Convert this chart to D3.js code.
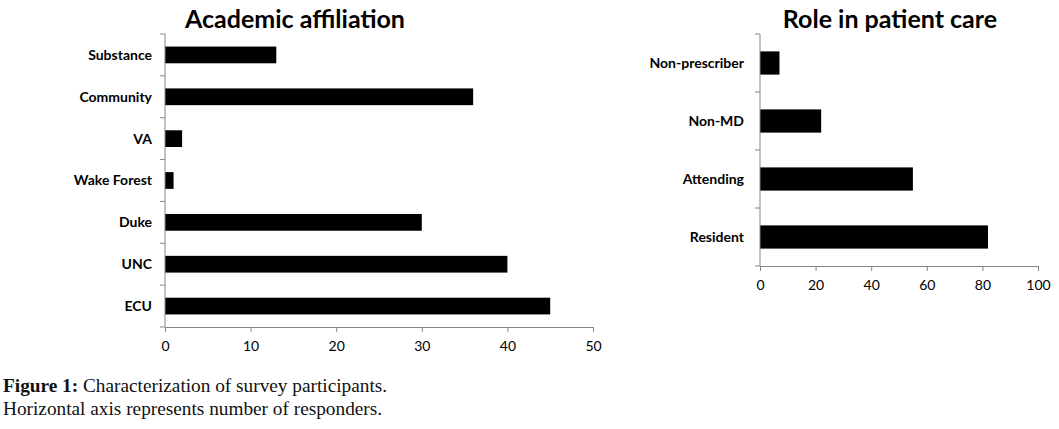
<!DOCTYPE html>
<html><head><meta charset="utf-8">
<script src="https://cdn.jsdelivr.net/npm/d3@7"></script>
<style>
body{margin:0;background:#fff;}
svg{display:block;}
</style></head>
<body>
<svg id="chart" width="1059" height="429"></svg>
<script>
const affilCategories = ["Substance","Community","VA","Wake Forest","Duke","UNC","ECU"];
const affilValues = [13,36,2,1,30,40,45];
const affilTicks = [0,10,20,30,40,50];
const roleCategories = ["Non-prescriber","Non-MD","Attending","Resident"];
const roleValues = [7,22,55,82];
const roleTicks = [0,20,40,60,80,100];

const svg = d3.select("#chart");
const labelFont = "Lato, 'Open Sans', sans-serif";

function drawChart(cfg){
  const g = svg.append("g");
  const x = d3.scaleLinear().domain(cfg.domain).range([cfg.x0, cfg.x1]);
  const y = d3.scaleBand().domain(cfg.cats).range([cfg.y0, cfg.y1]).paddingInner(cfg.pad).paddingOuter(cfg.pad/2);
  const yb = d3.scaleBand().domain(cfg.cats).range([cfg.y0, cfg.y1]);
  // bars
  g.selectAll("rect.bar").data(cfg.cats).join("rect")
    .attr("x", x(0)).attr("y", d=>y(d))
    .attr("width", (d,i)=>x(cfg.vals[i])-x(0))
    .attr("height", y.bandwidth()).attr("fill","#000");
  // y axis line and ticks at band boundaries
  const axisColor = "#868686";
  g.append("line").attr("x1",x(0)).attr("x2",x(0)).attr("y1",cfg.y0).attr("y2",cfg.y1)
    .attr("stroke",axisColor).attr("stroke-width",1);
  const bounds = cfg.cats.map(c=>yb(c)).concat([cfg.y1]);
  g.selectAll("line.yt").data(bounds).join("line")
    .attr("x1",x(0)-5).attr("x2",x(0)).attr("y1",d=>d).attr("y2",d=>d)
    .attr("stroke",axisColor);
  // x axis
  const xa = d3.axisBottom(x).tickValues(cfg.ticks).tickSize(5).tickSizeOuter(0).tickPadding(9);
  const ax = g.append("g").attr("transform",`translate(0,${cfg.y1})`).call(xa);
  ax.select(".domain").attr("stroke",axisColor);
  ax.selectAll(".tick line").attr("stroke",axisColor);
  ax.selectAll(".tick text").attr("font-family",labelFont).attr("font-size",14).attr("fill","#000");
  // category labels
  g.selectAll("text.cat").data(cfg.cats).join("text")
    .attr("x", x(0)-cfg.labelGap).attr("y", d=>y(d)+y.bandwidth()/2)
    .attr("dy","0.35em").attr("text-anchor","end")
    .attr("font-family",labelFont).attr("font-weight","bold").attr("font-size",14)
    .text(d=>d);
  // title
  g.append("text").attr("x",cfg.titleX).attr("y",28).attr("text-anchor","middle")
    .attr("font-family",labelFont).attr("font-weight","bold").attr("font-size",25)
    .text(cfg.title);
}

drawChart({cats:affilCategories, vals:affilValues, ticks:affilTicks, domain:[0,50],
  x0:165, x1:593, y0:34, y1:327, pad:0.6, labelGap:13, title:"Academic affiliation", titleX:295});
drawChart({cats:roleCategories, vals:roleValues, ticks:roleTicks, domain:[0,100],
  x0:760, x1:1038, y0:34, y1:266, pad:0.6, labelGap:16, title:"Role in patient care", titleX:890});

// caption
const cap = svg.append("text").attr("font-family","'Liberation Serif', 'DejaVu Serif', serif").attr("font-size",19.3).attr("fill","#111");
const l1 = cap.append("tspan").attr("x",3).attr("y",392);
l1.append("tspan").attr("font-weight","bold").text("Figure 1:");
l1.append("tspan").text(" Characterization of survey participants.");
cap.append("tspan").attr("x",3).attr("y",415).text("Horizontal axis represents number of responders.");
</script>
</body></html>
